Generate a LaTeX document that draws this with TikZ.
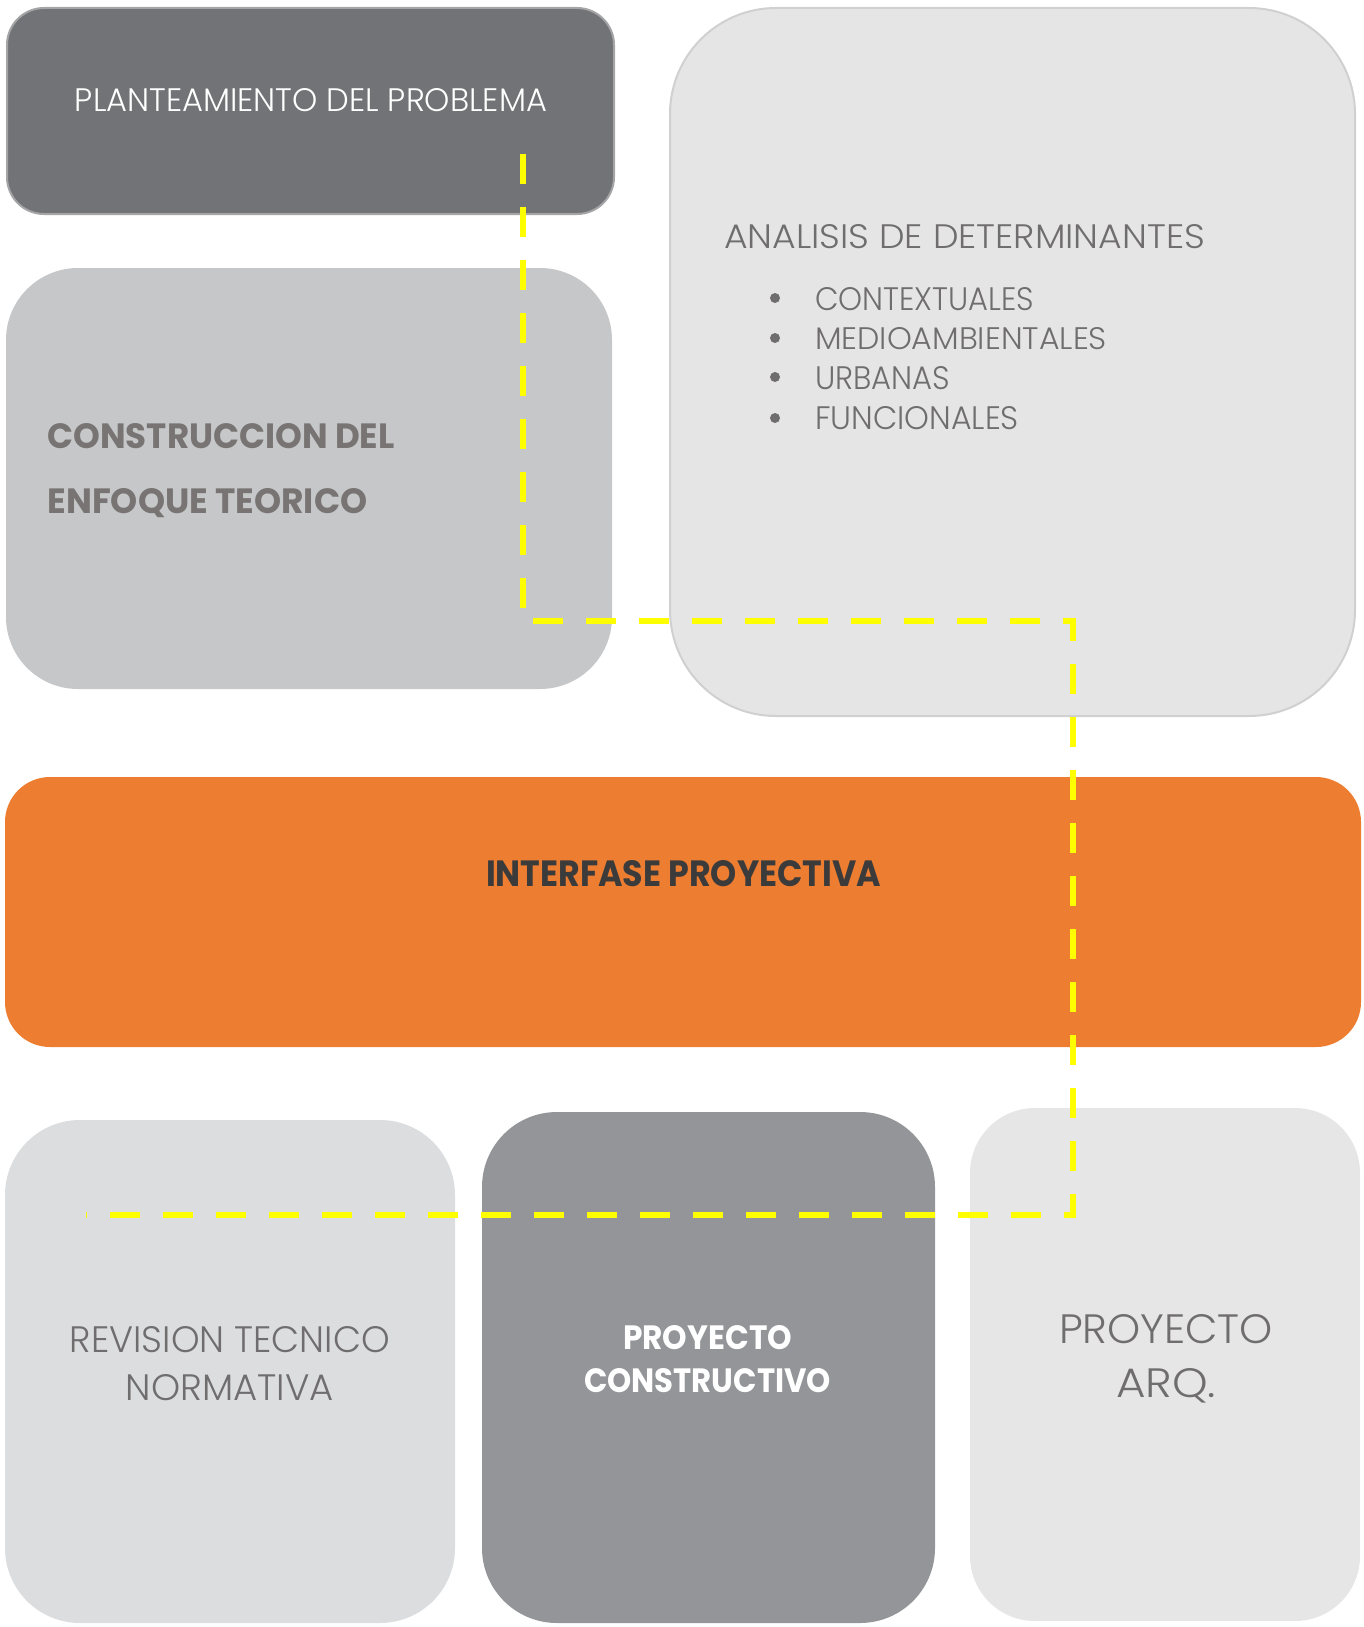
\documentclass[tikz,border=0pt]{standalone}
\usepackage{fontspec}
\setmainfont{Poppins}
\newfontfamily\lightfont{Poppins Light}
\usepackage{graphicx}
\definecolor{cplan}{HTML}{727376}
\definecolor{cplanb}{HTML}{A5A5A7}
\definecolor{cteo}{HTML}{C6C7C9}
\definecolor{cana}{HTML}{E5E5E5}
\definecolor{canab}{HTML}{D0D0D0}
\definecolor{cint}{HTML}{ED7D31}
\definecolor{crev}{HTML}{DCDDDF}
\definecolor{ccons}{HTML}{949598}
\definecolor{carq}{HTML}{E6E6E6}
\definecolor{tgray}{HTML}{6F6D6D}
\definecolor{tteo}{HTML}{787473}
\definecolor{tint}{HTML}{3B3B3B}
\definecolor{yroute}{HTML}{FFFF00}
\tikzset{
  box/.style={inner sep=0pt, outer sep=0pt, draw=none},
  lbl/.style={inner sep=0pt, outer sep=0pt, font=\lightfont},
  route/.style={draw=yroute, line width=6pt, dash pattern=on 30pt off 23pt},
  dot/.style={circle, fill=tgray, minimum size=10pt, inner sep=0pt},
}
\newcommand\fitt[3]{\resizebox{#1pt}{#2pt}{#3}}
\begin{document}
\begin{tikzpicture}[x=1pt,y=-1pt]
\useasboundingbox (0,0) rectangle (1364,1627);
% boxes
\node[box, fill=cplan, draw=cplanb, line width=2pt, minimum width=607pt, minimum height=206pt, rounded corners=37pt] (plan) at (310.5,111) {};
\node[box, fill=cteo, minimum width=606pt, minimum height=421pt, rounded corners=72pt] (teo) at (309,478.5) {};
\node[box, fill=cana, draw=canab, line width=2pt, minimum width=685pt, minimum height=708pt, rounded corners=106pt] (ana) at (1012.5,362) {};
\node[box, fill=cint, minimum width=1356pt, minimum height=270pt, rounded corners=45pt] (int) at (683,912) {};
\node[box, fill=crev, minimum width=450pt, minimum height=503pt, rounded corners=75pt] (rev) at (230,1371.5) {};
\node[box, fill=ccons, minimum width=453pt, minimum height=511pt, rounded corners=75pt] (cons) at (708.5,1367.5) {};
\node[box, fill=carq, minimum width=390pt, minimum height=513pt, rounded corners=65pt] (arq) at (1165,1364.5) {};
% route
\coordinate (r0) at (523,154);
\coordinate (r1) at (523,621);
\coordinate (r2) at (1073,621);
\coordinate (r3) at (1073,1215);
\coordinate (r4) at (86,1215);
\draw[route] (r0) -- (r1) -- (r2) -- (r3) -- (r4);
% texts
\node[lbl, anchor=base, text=white] (tplan) at (311,112) {\fitt{472}{23}{PLANTEAMIENTO DEL PROBLEMA}};
\node[lbl, anchor=base west, text=tgray] (tana) at (724,248) {\fitt{481}{24}{ANALISIS DE DETERMINANTES}};
\node[dot] (b1) at (775,298) {};
\node[dot] (b2) at (775,338) {};
\node[dot] (b3) at (775,377) {};
\node[dot] (b4) at (775,418) {};
\node[lbl, anchor=base west, text=tgray] (i1) at (815,310) {\fitt{219}{23}{CONTEXTUALES}};
\node[lbl, anchor=base west, text=tgray] (i2) at (815,349) {\fitt{292}{22}{MEDIOAMBIENTALES}};
\node[lbl, anchor=base west, text=tgray] (i3) at (815,389) {\fitt{135}{23}{URBANAS}};
\node[lbl, anchor=base west, text=tgray] (i4) at (815,429) {\fitt{204}{23}{FUNCIONALES}};
\node[lbl, anchor=base west, text=tteo, font=\rmfamily\bfseries] (tteo1) at (47.5,448) {\fitt{347}{25}{CONSTRUCCION DEL}};
\node[lbl, anchor=base west, text=tteo, font=\rmfamily\bfseries] (tteo2) at (47.5,513) {\fitt{320}{25}{ENFOQUE TEORICO}};
\node[lbl, anchor=base, text=tint, font=\rmfamily\bfseries] (tint) at (683.5,886) {\fitt{395}{26}{INTERFASE PROYECTIVA}};
\node[lbl, anchor=base, text=tgray] (trev1) at (230,1352) {\fitt{320}{26}{REVISION TECNICO}};
\node[lbl, anchor=base, text=tgray] (trev2) at (230,1400) {\fitt{208}{26}{NORMATIVA}};
\node[lbl, anchor=base, text=white, font=\rmfamily\bfseries] (tcons1) at (707.5,1349) {\fitt{169}{24}{PROYECTO}};
\node[lbl, anchor=base, text=white, font=\rmfamily\bfseries] (tcons2) at (707.5,1392) {\fitt{247}{24}{CONSTRUCTIVO}};
\node[lbl, anchor=base, text=tgray] (tarq1) at (1166,1343) {\fitt{214}{29}{PROYECTO}};
\node[lbl, anchor=base, text=tgray] (tarq2) at (1166,1397) {\fitt{100}{29}{ARQ.}};
\end{tikzpicture}
\end{document}
